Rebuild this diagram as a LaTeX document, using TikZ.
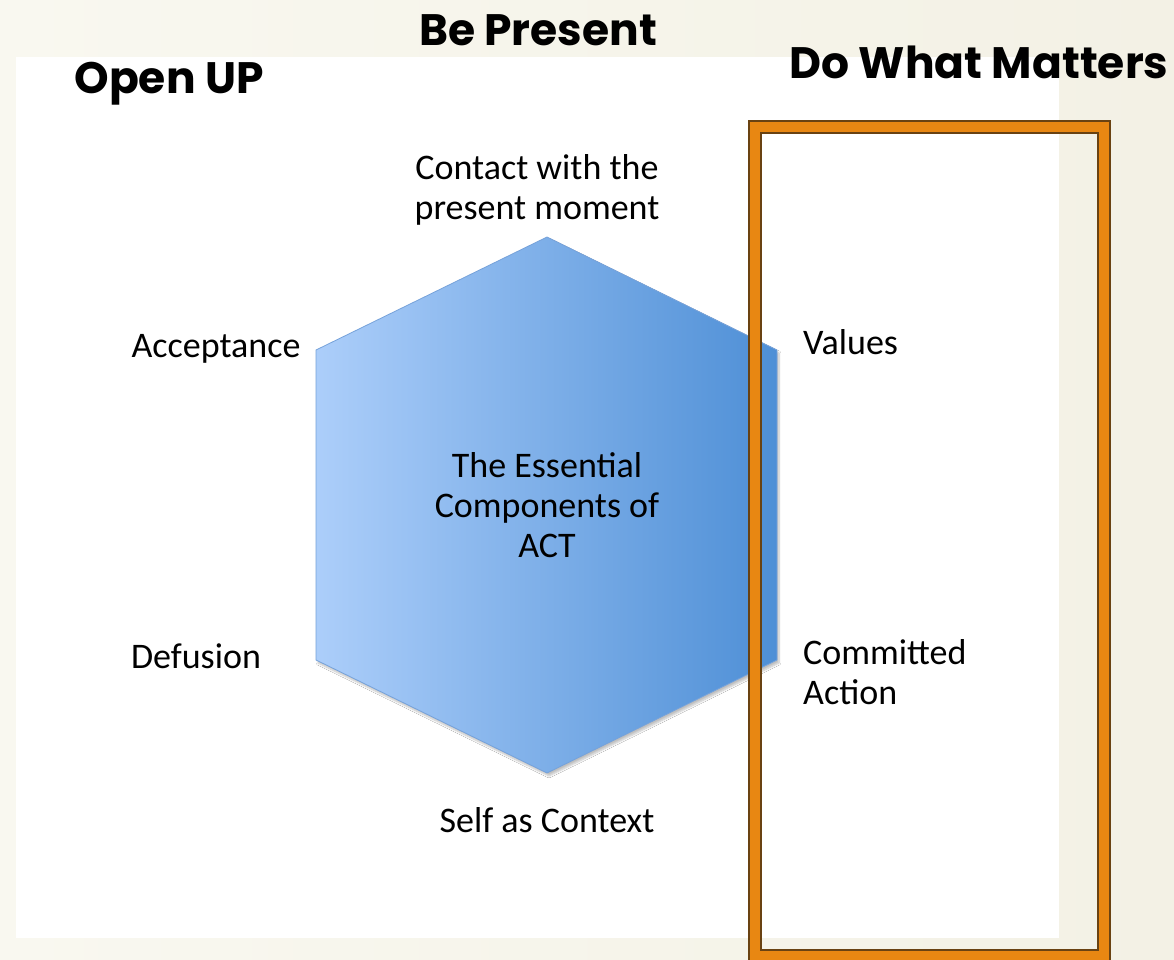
\documentclass[tikz,border=0pt]{standalone}
\usepackage{fontspec}
\setmainfont{Carlito}
\newfontfamily\headfont{Poppins}
\usetikzlibrary{shadows.blur}

\definecolor{paper}{RGB}{249,248,240}
\definecolor{paperdark}{RGB}{243,241,229}
\definecolor{hexlight}{RGB}{172,206,250}
\definecolor{hexdark}{RGB}{78,143,214}
\definecolor{hexedge}{RGB}{118,162,218}
\definecolor{frameorange}{RGB}{232,135,18}
\definecolor{framebrown}{RGB}{105,66,18}

\tikzset{
  heading/.style={font=\headfont\bfseries\fontsize{44}{50}\selectfont, inner sep=0pt},
  component/.style={font=\fontsize{36}{40}\selectfont, inner sep=0pt, align=center},
}

\begin{document}
\begin{tikzpicture}[x=1pt,y=-1pt]
    \useasboundingbox (0,0) rectangle (1174,959);
    % slide background and white panel
    \shade[left color=paper, right color=paperdark] (0,0) rectangle (1174,959);
    \fill[white] (16,57) rectangle (1059,938);

    % the hexagon
    \coordinate (hextop) at (547,237);
    \coordinate (hexne) at (777,350);
    \coordinate (hexse) at (777,660);
    \coordinate (hexbot) at (547,773);
    \coordinate (hexsw) at (316,660);
    \coordinate (hexnw) at (316,350);
    \path[draw=hexedge, line width=0.8pt, left color=hexlight, right color=hexdark,
        blur shadow={shadow xshift=2pt, shadow yshift=-3pt, shadow blur steps=6, shadow opacity=25}]
        (hextop) -- (hexne) -- (hexse) -- (hexbot) -- (hexsw) -- (hexnw) -- cycle;
    \node[component] (core) at (547,505) {The Essential\\Components of\\ACT};

    % the six parts round it
    \node[component] (contact) at (537,190) {Contact with the\\present moment};
    \node[component, anchor=base] (accept) at (216,357) {Acceptance};
    \node[component, anchor=base west] (values) at (803,354) {Values};
    \node[component, anchor=base] (defusion) at (196,668) {Defusion};
    \node[component, anchor=west, align=left] (action) at (803,672) {Committed\\Action};
    \node[component, anchor=base] (self) at (547,832) {Self as Context};

    % headings
    \node[heading, anchor=base] (present) at (538,45) {Be Present};
    \node[heading, anchor=base] (openup) at (169,93) {Open UP};
    \node[heading, anchor=base] (matters) at (979,78) {Do What Matters};

    % orange frame round the right column
    \draw[framebrown, line width=14pt] (755,127) rectangle (1104,956);
    \draw[frameorange, line width=10pt] (755,127) rectangle (1104,956);
\end{tikzpicture}
\end{document}
